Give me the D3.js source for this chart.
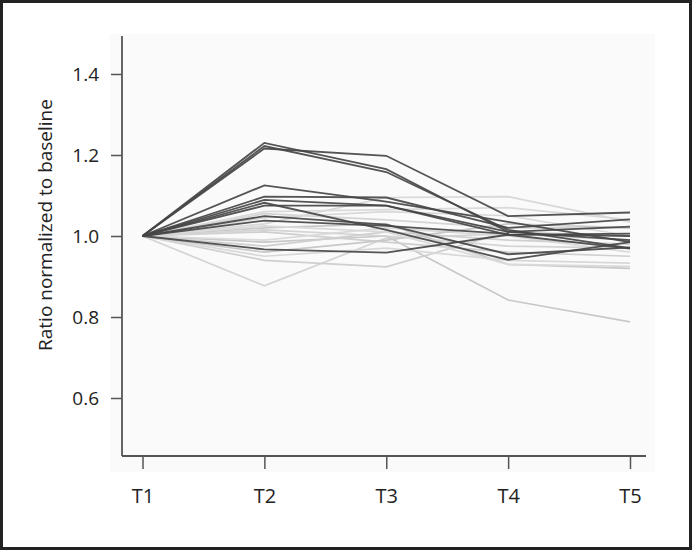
<!DOCTYPE html>
<html><head><meta charset="utf-8">
<script src="https://cdn.jsdelivr.net/npm/d3@7/dist/d3.min.js"></script>
<style>html,body{margin:0;padding:0;background:#fff;}svg{display:block;}</style>
</head><body>
<script>
const timepoints = ["T1","T2","T3","T4","T5"];
const yTicks = [0.6, 0.8, 1.0, 1.2, 1.4];
const yTitle = "Ratio normalized to baseline";

// light grey series
const light01 = [1, 0.877, 0.995, 1.005, 0.99];
const light02 = [1, 0.985, 1.000, 0.842, 0.788];
const light03 = [1, 1.030, 1.095, 1.097, 1.035];
const light04 = [1, 0.940, 0.924, 1.010, 1.000];
const light05 = [1, 1.060, 1.065, 1.070, 1.040];
const light06 = [1, 1.055, 1.040, 1.020, 1.020];
const light07 = [1, 1.020, 1.030, 0.930, 0.920];
const light08 = [1, 0.950, 0.970, 0.940, 0.933];
const light09 = [1, 1.010, 0.985, 0.960, 0.950];
const light10 = [1, 0.990, 1.020, 1.000, 0.960];
const light11 = [1, 1.015, 1.000, 0.975, 0.970];
const light12 = [1, 0.960, 0.990, 1.030, 1.020];
const light13 = [1, 1.045, 1.060, 1.050, 1.000];
const light14 = [1, 0.975, 1.010, 0.990, 0.980];
const light15 = [1, 1.025, 1.010, 0.930, 0.925];
// dark grey series
const dark01 = [1, 1.230, 1.165, 1.010, 0.990];
const dark02 = [1, 1.222, 1.158, 1.015, 0.970];
const dark03 = [1, 1.216, 1.198, 1.049, 1.058];
const dark04 = [1, 1.125, 1.085, 1.035, 0.985];
const dark05 = [1, 1.097, 1.095, 1.020, 1.041];
const dark06 = [1, 1.089, 1.075, 1.010, 1.023];
const dark07 = [1, 1.082, 1.015, 0.941, 0.985];
const dark08 = [1, 1.075, 1.075, 1.003, 1.006];
const dark09 = [1, 1.049, 1.028, 0.955, 0.972];
const dark10 = [1, 1.038, 1.025, 1.005, 1.000];
const dark11 = [1, 0.967, 0.959, 1.003, 0.969];

const lightSeries = [light01,light02,light03,light04,light05,light06,light07,light08,light09,light10,light11,light12,light13,light14,light15];
const darkSeries = [dark01,dark02,dark03,dark04,dark05,dark06,dark07,dark08,dark09,dark10,dark11];

const W = 692, H = 550;
const svg = d3.select("body").append("svg").attr("width", W).attr("height", H);

svg.append("rect").attr("x",0).attr("y",0).attr("width",W).attr("height",H).attr("fill","#fff");
// subtle plot panel
svg.append("rect").attr("x",110).attr("y",34).attr("width",545).attr("height",438).attr("fill","#fafafa");

const x = d3.scalePoint().domain(timepoints).range([142.5, 630]).padding(0);
const y = d3.scaleLinear().domain([0.4568, 1.4938]).range([456, 36]);

const line = d3.line().x((d,i)=>x(timepoints[i])).y(d=>y(d));

const lightShades = ["#d4d4d4","#c8c8c8","#d8d8d8","#cfcfcf","#dadada"];
svg.append("g").selectAll("path").data(lightSeries).join("path")
  .attr("d", line).attr("fill","none")
  .attr("stroke",(d,i)=>lightShades[i%lightShades.length])
  .attr("stroke-width",1.7).attr("stroke-linejoin","miter");

svg.append("g").selectAll("path").data(darkSeries).join("path")
  .attr("d", line).attr("fill","none")
  .attr("stroke","#454545").attr("stroke-opacity",0.92)
  .attr("stroke-width",1.8).attr("stroke-linejoin","miter");

// axes
const axisColor = "#555";
const yAxis = svg.append("g").attr("transform","translate(122,0)")
  .call(d3.axisLeft(y).tickValues(yTicks).tickFormat(d3.format(".1f")).tickSize(11).tickPadding(12));
yAxis.select(".domain").attr("d","M0,36V456");
const xAxis = svg.append("g").attr("transform","translate(0,456)")
  .call(d3.axisBottom(x).tickSize(13).tickPadding(20));
xAxis.select(".domain").attr("d","M122,0H646");

svg.selectAll(".domain").attr("stroke",axisColor).attr("stroke-width",1.8);
svg.selectAll(".tick line").attr("stroke",axisColor).attr("stroke-width",1.5);
yAxis.selectAll(".tick text").attr("fill","#222").style("font-family","'Open Sans', sans-serif").style("font-size","19px");
xAxis.selectAll(".tick text").attr("fill","#222").style("font-family","'Open Sans', sans-serif").style("font-size","20px");

svg.append("text")
  .attr("transform","translate(52,225) rotate(-90)")
  .attr("text-anchor","middle")
  .attr("fill","#222")
  .style("font-family","'Open Sans', sans-serif").style("font-size","19px")
  .text(yTitle);

// frame
svg.append("rect").attr("x",1.5).attr("y",1.5).attr("width",W-3).attr("height",H-3)
  .attr("fill","none").attr("stroke","#222").attr("stroke-width",3);
</script>
</body></html>
